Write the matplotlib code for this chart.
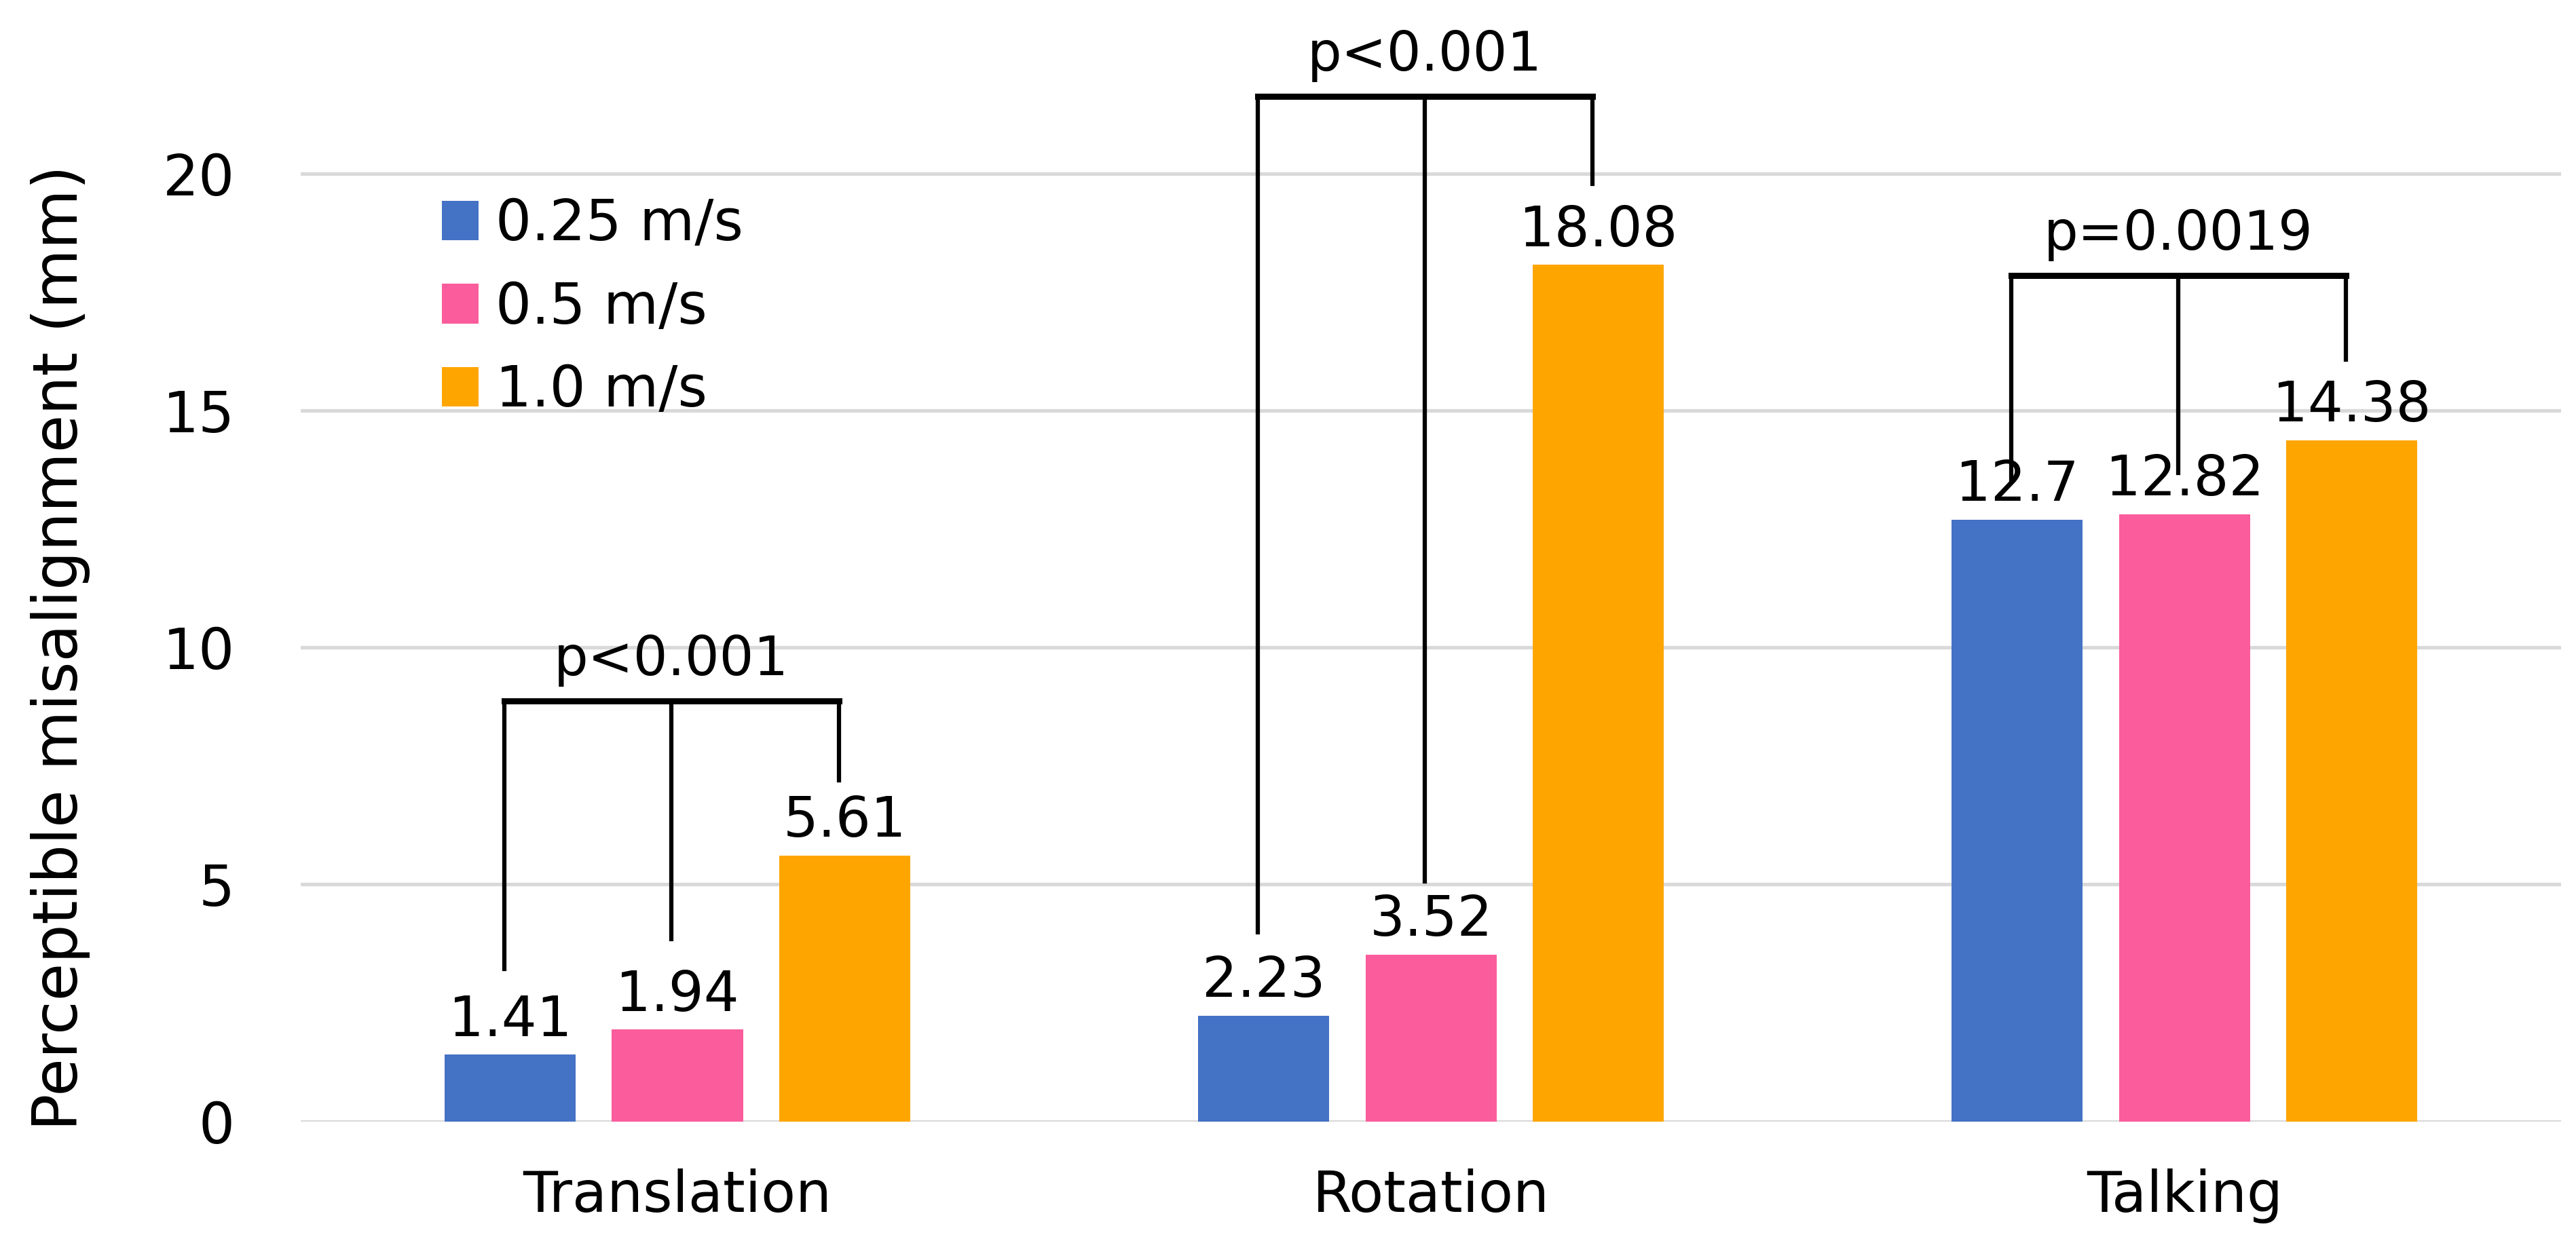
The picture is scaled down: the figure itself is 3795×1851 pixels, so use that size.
import numpy as np
import matplotlib.pyplot as plt

plt.rcParams['font.family'] = ['DejaVu Sans']

categories = ['Translation', 'Rotation', 'Talking']
speeds = ['0.25 m/s', '0.5 m/s', '1.0 m/s']
v025 = [1.41, 2.23, 12.7]
v05 = [1.94, 3.52, 12.82]
v10 = [5.61, 18.08, 14.38]
colors = ['#4472C4', '#FA5C9C', '#FFA500']

# significance brackets: label, bar level, lower ends of the three legs
p_labels = ['p<0.001', 'p<0.001', 'p=0.0019']
bracket_top = [8.87, 21.63, 17.85]
leg_ends = [[3.22, 3.85, 7.2], [3.99, 5.06, 19.79], [13.55, 13.69, 16.08]]

fig = plt.figure(figsize=(15.18, 7.404), dpi=250)
ax = fig.add_axes([0.1167, 0.1072, 0.8776, 0.8928])

x = np.arange(len(categories))
off = 0.222
w = 0.174
series = [v025, v05, v10]
for i, vals in enumerate(series):
    bars = ax.bar(x + (i - 1) * off, vals, w, color=colors[i], label=speeds[i], zorder=3)
    for b, v in zip(bars, vals):
        ax.annotate(f'{v:g}', (b.get_x() + b.get_width() / 2, v), xytext=(0, 3),
                    textcoords='offset points', ha='center', va='bottom', fontsize=23.5)

for k in range(len(categories)):
    xs = [x[k] + (i - 1) * off - 0.008 for i in range(3)]
    top = bracket_top[k]
    ax.plot([xs[0], xs[2]], [top, top], color='black', lw=2.6, solid_capstyle='projecting', zorder=4, clip_on=False)
    for xi, ye in zip(xs, leg_ends[k]):
        ax.plot([xi, xi], [top, ye], color='black', lw=1.8, zorder=4, clip_on=False)
    ax.text(np.mean([xs[0], xs[2]]), top + 0.3, p_labels[k], ha='center', va='bottom', fontsize=23)

ax.set_xlim(-0.5, 2.5)
ax.set_ylim(0, 23.67)
ax.set_yticks([0, 5, 10, 15, 20])
ax.set_xticks(x)
ax.set_xticklabels(categories)
ax.tick_params(axis='both', length=0, labelsize=24)
ax.tick_params(axis='y', pad=28)
ax.tick_params(axis='x', pad=20)
ax.grid(axis='y', color='#D9D9D9', lw=1.5, zorder=0)
for s in ax.spines.values():
    s.set_visible(False)

ax.set_ylabel('Perceptible misalignment (mm)', fontsize=26)
ax.yaxis.set_label_coords(-0.093, 10 / 23.67)

ax.legend(loc='upper left', bbox_to_anchor=(0.04, 0.87), frameon=False, fontsize=24,
          handlelength=0.65, handleheight=0.7, handletextpad=0.3, labelspacing=0.5)

fig.savefig('out.png')
